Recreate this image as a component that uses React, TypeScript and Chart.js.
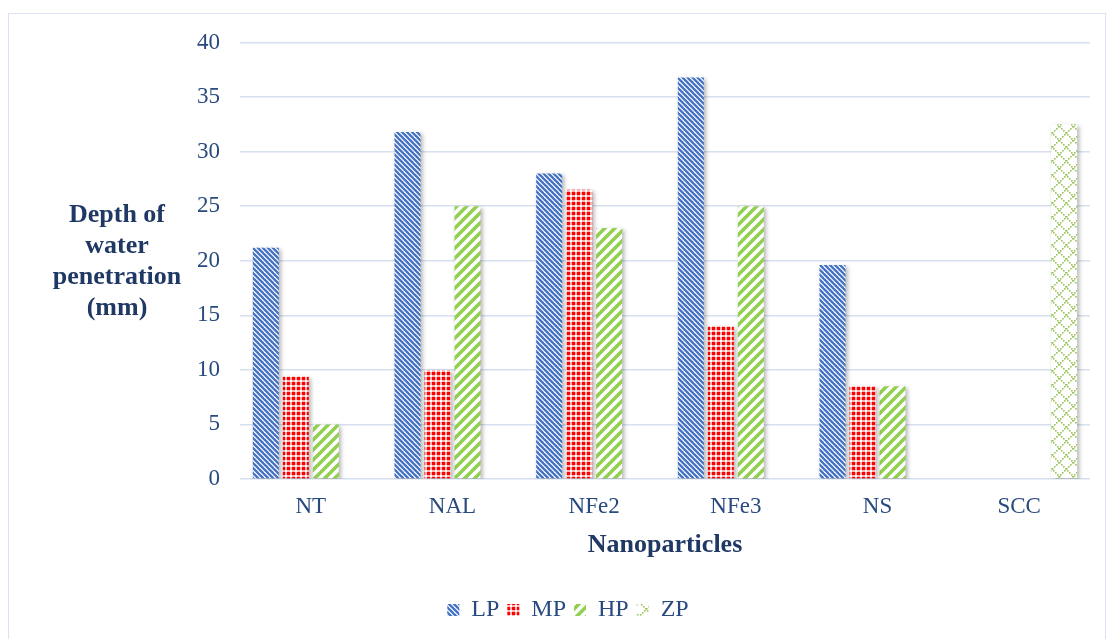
import React, { useEffect, useRef } from "react";
import { Chart, registerables } from "chart.js";

Chart.register(...registerables);

const categories = ["NT", "NAL", "NFe2", "NFe3", "NS", "SCC"];
const seriesNames = ["LP", "MP", "HP", "ZP"];
const lpValues: (number | null)[] = [21.2, 31.8, 28.0, 36.8, 19.6, null];
const mpValues: (number | null)[] = [9.4, 10.0, 26.5, 14.0, 8.5, null];
const hpValues: (number | null)[] = [5.0, 25.0, 23.0, 25.0, 8.5, null];
const zpValues: (number | null)[] = [null, null, null, null, null, 32.5];
const yTicks = { min: 0, max: 40, step: 5 };
const yTitleLines = ["Depth of", "water", "penetration", "(mm)"];
const xTitle = "Nanoparticles";

const FONT = '"Liberation Serif", "Times New Roman", serif';
const TICK_COLOR = "#284a7e";
const TITLE_COLOR = "#1f3864";

function makeTile(size: number, draw: (c: CanvasRenderingContext2D, s: number) => void): CanvasPattern | string {
  const cv = document.createElement("canvas");
  cv.width = size;
  cv.height = size;
  const c = cv.getContext("2d");
  if (!c) return "#888";
  draw(c, size);
  const ctx = document.createElement("canvas").getContext("2d");
  const p = ctx ? ctx.createPattern(cv, "repeat") : null;
  return p || "#888";
}

function lpPattern() {
  return makeTile(5, (c, s) => {
    c.fillStyle = "#ffffff";
    c.fillRect(0, 0, s, s);
    c.strokeStyle = "#4472c4";
    c.lineWidth = 2.3;
    for (const o of [-s, 0, s]) {
      c.beginPath();
      c.moveTo(o - 1, -1);
      c.lineTo(o + s + 1, s + 1);
      c.stroke();
    }
  });
}

function mpPattern() {
  return makeTile(5, (c, s) => {
    c.fillStyle = "#ff0000";
    c.fillRect(0, 0, s, s);
    c.fillStyle = "#ffb3b3";
    c.fillRect(1, 0, 2, s);
    c.fillRect(0, 1, s, 2);
    c.fillStyle = "#ffffff";
    c.fillRect(1, 1, 2, 2);
  });
}

function hpPattern() {
  return makeTile(10, (c, s) => {
    c.fillStyle = "#ffffff";
    c.fillRect(0, 0, s, s);
    c.strokeStyle = "#92d050";
    c.lineWidth = 3.6;
    for (const o of [-s, 0, s]) {
      c.beginPath();
      c.moveTo(o - 1, s + 1);
      c.lineTo(o + s + 1, -1);
      c.stroke();
    }
  });
}

function zpPattern() {
  return makeTile(14, (c, s) => {
    c.fillStyle = "#ffffff";
    c.fillRect(0, 0, s, s);
    c.fillStyle = "#9bc45a";
    for (let i = 0; i < s; i += 2) {
      c.fillRect(i, i, 1.6, 1.6);
      c.fillRect(s - 1 - i, i, 1.6, 1.6);
    }
  });
}

const titlesPlugin = {
  id: "customTitles",
  afterDraw(chart: any) {
    const { ctx, chartArea } = chart;
    ctx.save();
    ctx.fillStyle = TITLE_COLOR;
    ctx.font = `bold 26px ${FONT}`;
    ctx.textAlign = "center";
    ctx.textBaseline = "middle";
    ctx.fillText(xTitle, (chartArea.left + chartArea.right) / 2, chartArea.bottom + 66);
    const lh = 31.3;
    const mid = (chartArea.top + chartArea.bottom) / 2 + 1;
    const start = mid - ((yTitleLines.length - 1) * lh) / 2;
    yTitleLines.forEach((t, i) => ctx.fillText(t, 108, start + i * lh));
    ctx.restore();
  },
};

const shadowPlugin = {
  id: "barShadow",
  beforeDatasetsDraw(chart: any) {
    const ctx = chart.ctx;
    ctx.save();
    ctx.shadowColor = "rgba(0,0,0,0.3)";
    ctx.shadowBlur = 4;
    ctx.shadowOffsetX = 2;
    ctx.shadowOffsetY = 2;
  },
  afterDatasetsDraw(chart: any) {
    chart.ctx.restore();
  },
};

export default function App() {
  const ref = useRef<HTMLCanvasElement | null>(null);

  useEffect(() => {
    document.documentElement.style.overflow = "hidden";
    document.body.style.overflow = "hidden";
    const canvas = ref.current;
    if (!canvas) return;
    const fills = [lpPattern(), mpPattern(), hpPattern(), zpPattern()];
    const values = [lpValues, mpValues, hpValues, zpValues];
    const chart = new Chart(canvas, {
      type: "bar",
      data: {
        labels: categories,
        datasets: seriesNames.map((name, i) => ({
          label: name,
          data: values[i],
          backgroundColor: fills[i] as any,
          borderWidth: 0,
          categoryPercentage: 0.847,
          barPercentage: 0.867,
        })),
      },
      options: {
        responsive: false,
        animation: false,
        layout: { padding: { left: 37, right: 15, top: 28.5, bottom: 6 } },
        plugins: {
          tooltip: { enabled: false },
          legend: {
            position: "bottom",
            labels: {
              boxWidth: 12,
              boxHeight: 12,
              padding: 8,
              color: TICK_COLOR,
              font: { family: FONT, size: 24 },
            },
          },
        },
        scales: {
          x: {
            grid: { display: false, drawTicks: false },
            border: { display: false },
            ticks: { color: TICK_COLOR, font: { family: FONT, size: 23 }, padding: 14 },
            afterFit: (s: any) => {
              s.height = 111;
            },
          },
          y: {
            min: yTicks.min,
            max: yTicks.max,
            ticks: { stepSize: yTicks.step, color: TICK_COLOR, font: { family: FONT, size: 23 }, padding: 20 },
            grid: { color: "#d6e0f0", lineWidth: 1.6, drawTicks: false },
            border: { display: false },
            afterFit: (s: any) => {
              s.width = 194;
              s.paddingTop = 0;
              s.paddingBottom = 0;
            },
          },
        },
      },
      plugins: [shadowPlugin, titlesPlugin],
    });
    return () => chart.destroy();
  }, []);

  return (
    <div
      style={{
        position: "absolute",
        left: 8,
        top: 13,
        width: 1098,
        height: 640,
        border: "1.5px solid #dae3f3",
        boxSizing: "border-box",
        background: "#ffffff",
      }}
    >
      <canvas ref={ref} width={1096} height={624} style={{ display: "block", width: 1096, height: 624 }} />
    </div>
  );
}
